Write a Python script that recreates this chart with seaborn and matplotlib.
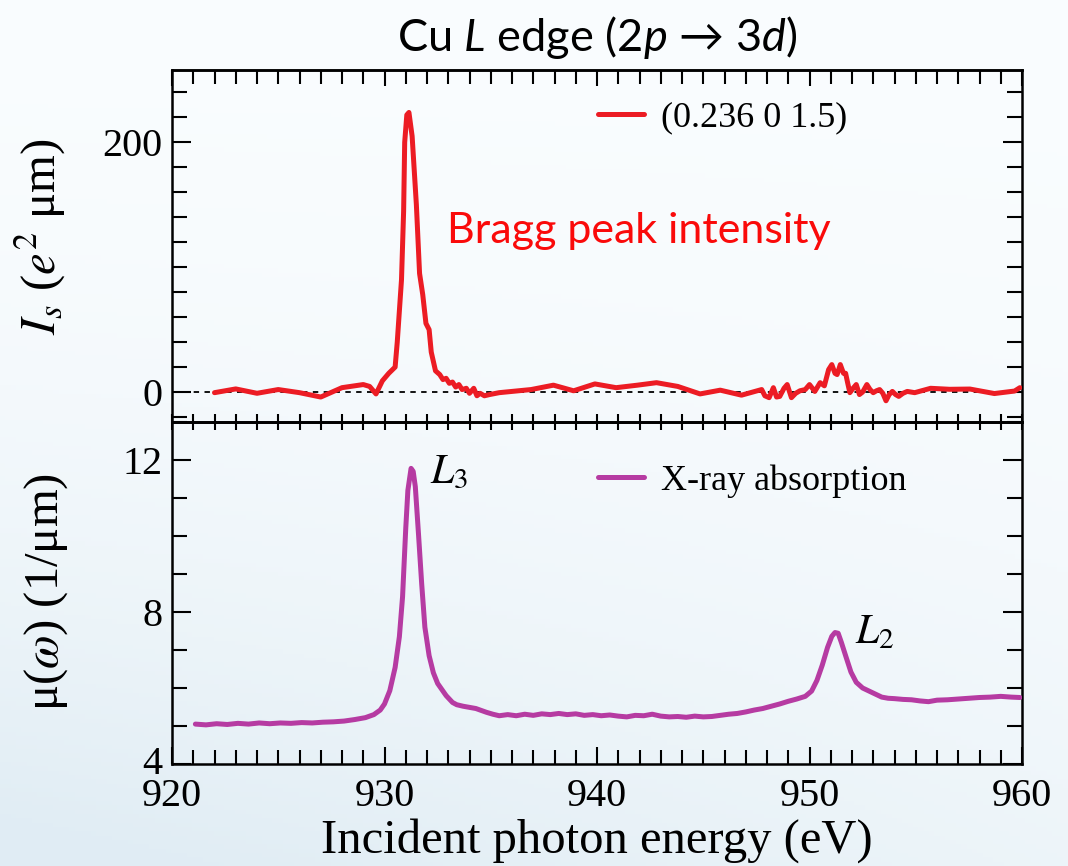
import numpy as np
import pandas as pd
import matplotlib
matplotlib.use("Agg")
import matplotlib.pyplot as plt
import matplotlib.transforms as mtransforms
import seaborn as sns
from matplotlib.ticker import MultipleLocator

# ---------------- data ----------------
bragg_energy = [
    922.0, 923.0, 924.0, 925.0, 926.0, 927.0, 928.0, 929.0, 929.3, 929.6,
    929.9, 930.2, 930.5, 930.6, 930.8, 930.9, 930.95, 931.05, 931.15, 931.3,
    931.5, 931.65, 931.8, 931.95, 932.1, 932.2, 932.4, 932.6, 932.75, 932.9,
    933.05, 933.2, 933.35, 933.5, 933.65, 933.85, 934.0, 934.2, 934.35, 934.5,
    934.7, 934.95, 935.4, 936.9, 937.95, 938.9, 939.9, 940.9, 941.9, 942.8,
    943.8, 944.85, 945.8, 946.8, 947.75, 947.9, 948.1, 948.3, 948.45, 948.6,
    948.8, 948.95, 949.15, 949.35, 949.55, 949.8, 950.0, 950.25, 950.5, 950.7,
    950.9, 951.05, 951.2, 951.3, 951.45, 951.6, 951.7, 951.8, 951.9, 952.05,
    952.2, 952.35, 952.5, 952.7, 952.85, 953.0, 953.15, 953.3, 953.45, 953.6,
    953.75, 953.9, 954.05, 954.2, 954.4, 954.6, 954.95, 955.7, 956.6, 957.55,
    958.7, 959.65, 959.9,
]
bragg_intensity = [
    -0.5, 2.5, -1.0, 2.0, -0.5, -4.0, 3.5, 6.0, 4.5, -1.5,
    9.0, 15.0, 20.0, 40.0, 90.0, 145.0, 200.0, 222.0, 224.0, 205.0,
    150.0, 95.0, 78.0, 55.0, 50.0, 32.0, 17.0, 14.0, 10.0, 11.0,
    7.0, 8.0, 4.0, 6.0, 2.0, 3.0, -1.0, 3.0, -3.0, -1.0,
    -3.0, -2.0, -0.5, 2.0, 5.5, 1.0, 6.5, 3.5, 5.5, 7.5,
    4.5, -1.5, 1.5, -2.5, 2.0, -3.0, -4.5, 3.5, -4.0, -3.5,
    3.0, 6.0, -4.5, -1.0, 1.0, 2.0, 6.0, 0.5, 7.5, 5.0,
    18.0, 22.0, 15.0, 14.0, 22.0, 15.0, 15.0, 7.0, -0.5, 3.0,
    6.0, -2.0, 0.0, 6.0, 2.0, -0.5, 1.0, 2.0, -1.0, -7.0,
    -2.0, 0.5, -2.0, -3.5, -1.0, 0.5, -0.5, 3.0, 2.2, 2.4,
    -1.2, 0.8, 3.5,
]

xas_energy = [
    921.1, 921.6, 922.1, 922.6, 923.1, 923.6, 924.1, 924.6, 925.1, 925.6,
    926.1, 926.6, 927.1, 927.6, 928.1, 928.6, 929.1, 929.5, 929.8, 930.0,
    930.25, 930.5, 930.7, 930.85, 931.0, 931.1, 931.25, 931.35, 931.45, 931.6,
    931.75, 931.9, 932.1, 932.3, 932.5, 932.9, 933.2, 933.4, 933.7, 934.0,
    934.3, 934.6, 934.8, 935.1, 935.4, 935.8, 936.2, 936.6, 937.0, 937.4,
    937.8, 938.2, 938.6, 939.0, 939.4, 939.8, 940.2, 940.6, 941.0, 941.4,
    941.8, 942.2, 942.6, 943.0, 943.4, 943.8, 944.2, 944.6, 945.0, 945.4,
    945.8, 946.2, 946.6, 947.0, 947.4, 947.8, 948.2, 948.6, 949.0, 949.4,
    949.8, 950.1, 950.35, 950.6, 950.85, 951.05, 951.2, 951.35, 951.5, 951.7,
    951.95, 952.2, 952.5, 952.8, 953.1, 953.4, 953.7, 954.0, 954.4, 954.8,
    955.2, 955.6, 956.0, 956.5, 957.0, 957.5, 958.0, 958.5, 959.0, 959.5,
    959.9,
]
xas_mu = [
    5.05, 5.03, 5.06, 5.04, 5.07, 5.05, 5.08, 5.06, 5.08, 5.07,
    5.09, 5.08, 5.10, 5.11, 5.13, 5.17, 5.22, 5.30, 5.42, 5.58,
    5.93, 6.54, 7.35, 8.40, 10.2, 11.2, 11.78, 11.7, 11.3, 10.05,
    8.74, 7.60, 6.85, 6.40, 6.12, 5.80, 5.62, 5.56, 5.52, 5.49,
    5.46, 5.40, 5.36, 5.31, 5.27, 5.30, 5.27, 5.31, 5.28, 5.32,
    5.30, 5.33, 5.30, 5.32, 5.28, 5.30, 5.27, 5.29, 5.26, 5.24,
    5.28, 5.27, 5.31, 5.26, 5.24, 5.25, 5.23, 5.26, 5.24, 5.25,
    5.28, 5.31, 5.33, 5.37, 5.42, 5.46, 5.52, 5.58, 5.65, 5.71,
    5.78, 5.92, 6.20, 6.60, 7.07, 7.36, 7.46, 7.44, 7.20, 6.85,
    6.42, 6.15, 6.00, 5.92, 5.84, 5.76, 5.73, 5.72, 5.70, 5.69,
    5.66, 5.64, 5.68, 5.69, 5.71, 5.73, 5.75, 5.76, 5.78, 5.76,
    5.75,
]

bragg_label = "(0.236 0 1.5)"
xas_label = "X-ray absorption"
x_ticks_major = 10
top_y_major, top_y_minor = 200, 20
bot_y_major, bot_y_minor = 4, 1

df_bragg = pd.DataFrame({"E": bragg_energy, "I": bragg_intensity})
df_xas = pd.DataFrame({"E": xas_energy, "mu": xas_mu})

# ---------------- style ----------------
sns.set_theme(style="ticks")
plt.rcParams["font.family"] = ["Liberation Serif", "DejaVu Serif"]
plt.rcParams["mathtext.fontset"] = "custom"
plt.rcParams["mathtext.rm"] = "Lato"
plt.rcParams["mathtext.it"] = "Lato:italic"
plt.rcParams["axes.linewidth"] = 1.8
plt.rcParams["axes.edgecolor"] = "black"
plt.rcParams["text.color"] = "black"
plt.rcParams["xtick.color"] = "black"
plt.rcParams["ytick.color"] = "black"
plt.rcParams["xtick.labelcolor"] = "black"
plt.rcParams["ytick.labelcolor"] = "black"
plt.rcParams["legend.labelcolor"] = "black"

W, H = 1068, 866
fig = plt.figure(figsize=(W / 100, H / 100), dpi=100)


def fx(px):
    return px / W


def fy(py):
    return 1 - py / H


# background gradient (decoration)
bg = fig.add_axes([0, 0, 1, 1], zorder=-10)
gy, gx = np.mgrid[0:1:200j, 0:1:200j]
t = np.clip(gy ** 2 * (1.1 - 0.6 * gx), 0, 1)[..., None]
top_c = np.array([0.978, 0.990, 0.997])
bot_c = np.array([0.880, 0.928, 0.957])
bg.imshow(top_c * (1 - t) + bot_c * t, aspect="auto", extent=[0, 1, 0, 1],
          origin="upper")
bg.set_axis_off()

L, R = 172, 1022
T1, B1, B2 = 70, 422, 764
ax1 = fig.add_axes([fx(L), fy(B1), (R - L) / W, (B1 - T1) / H])
ax2 = fig.add_axes([fx(L), fy(B2), (R - L) / W, (B2 - B1) / H])
for ax in (ax1, ax2):
    ax.set_facecolor("none")

RED = "#ec1c24"
MAG = "#b63ba2"

ax1.axhline(0, color="black", lw=1.3, ls=(0, (3, 3)), zorder=1)
sns.lineplot(data=df_bragg, x="E", y="I", ax=ax1, color=RED, lw=3.6,
             label=bragg_label, estimator=None, sort=False, zorder=3)
sns.lineplot(data=df_xas, x="E", y="mu", ax=ax2, color=MAG, lw=3.6,
             label=xas_label, estimator=None, sort=False, zorder=3)

ax1.set_xlim(920, 960)
ax2.set_xlim(920, 960)
ax1.set_ylim(-24, 258)
ax2.set_ylim(4, 13)
ax1.set_xlabel("")
ax1.set_ylabel("")
ax2.set_xlabel("")
ax2.set_ylabel("")

for ax in (ax1, ax2):
    ax.xaxis.set_major_locator(MultipleLocator(x_ticks_major))
    ax.xaxis.set_minor_locator(MultipleLocator(1))
    for s in ax.spines.values():
        s.set_linewidth(1.8)
        s.set_visible(True)
    ax.tick_params(axis="y", which="major", direction="in", length=14,
                   width=1.5, left=True, right=True, labelsize=29, pad=7,
                   colors="black")
    ax.tick_params(axis="y", which="minor", direction="in", length=11,
                   width=1.5, left=True, right=True)

ax1.yaxis.set_major_locator(MultipleLocator(top_y_major))
ax1.yaxis.set_minor_locator(MultipleLocator(top_y_minor))
ax2.yaxis.set_major_locator(MultipleLocator(bot_y_major))
ax2.yaxis.set_minor_locator(MultipleLocator(bot_y_minor))

# top panel: short ticks at the shared boundary, long ticks on the top
ax1.tick_params(axis="x", which="major", direction="in", length=6, width=1.5,
                bottom=True, top=False, labelbottom=False)
ax1.tick_params(axis="x", which="minor", direction="in", length=5.5,
                width=1.5, bottom=True, top=False)
sec1 = ax1.secondary_xaxis("top")
sec1.xaxis.set_major_locator(MultipleLocator(x_ticks_major))
sec1.xaxis.set_minor_locator(MultipleLocator(1))
sec1.tick_params(which="major", direction="in", length=11.5, width=1.5,
                 labeltop=False, colors="black")
sec1.tick_params(which="minor", direction="in", length=10, width=1.5,
                 colors="black")
sec1.spines["top"].set_linewidth(1.8)

# bottom panel
ax2.tick_params(axis="x", which="major", direction="in", length=12, width=1.5,
                bottom=True, top=False, labelsize=29, pad=10, colors="black")
ax2.tick_params(axis="x", which="minor", direction="in", length=10,
                width=1.5, bottom=True, top=False)
sec2 = ax2.secondary_xaxis("top")
sec2.xaxis.set_major_locator(MultipleLocator(x_ticks_major))
sec2.xaxis.set_minor_locator(MultipleLocator(1))
sec2.tick_params(which="major", direction="in", length=6, width=1.5,
                 labeltop=False, colors="black")
sec2.tick_params(which="minor", direction="in", length=5.5, width=1.5,
                 colors="black")
sec2.spines["top"].set_linewidth(1.8)

# legends
for ax, py in ((ax1, 118), (ax2, 481)):
    ax.legend(loc="center left", bbox_to_anchor=(fx(598), fy(py)),
              bbox_transform=fig.transFigure, frameon=False, fontsize=26,
              handlelength=1.28, handletextpad=0.46, borderpad=0,
              borderaxespad=0, labelcolor="black")

# texts
fig.text(fx(597), fy(51), r"Cu $\mathit{L}$ edge (2$\mathit{p}$ → 3$\mathit{d}$)",
         ha="center", va="baseline", fontsize=32.5,
         family=["Lato", "DejaVu Sans"], color="black")
fig.text(fx(447), fy(243), "Bragg peak intensity", ha="left", va="baseline",
         fontsize=31, family=["Lato", "DejaVu Sans"], color="#fa0a0a")
fig.text(fx(430), fy(483), r"$L_3$", ha="left", va="baseline", fontsize=30,
         math_fontfamily="stix", color="black")
fig.text(fx(855), fy(643), r"$L_2$", ha="left", va="baseline", fontsize=30,
         math_fontfamily="stix", color="black")
fig.text(fx(40), fy(237), r"$I_s$ ($e^2$ μm)", rotation=90, ha="center",
         va="center", fontsize=35, math_fontfamily="stix", color="black")
fig.text(fx(46), fy(592), r"μ($\omega$) (1/μm)", rotation=90, ha="center",
         va="center", fontsize=35, math_fontfamily="stix", color="black")
fig.text(fx(597), fy(853), "Incident photon energy (eV)", ha="center",
         va="baseline", fontsize=35, color="black")

# nudge the lowest y label ("4") up a few pixels so it clears "920"
fig.canvas.draw()
lift = mtransforms.ScaledTranslation(0, 4 / 100, fig.dpi_scale_trans)
for lab in ax2.get_yticklabels():
    if lab.get_text() == "4":
        lab.set_transform(lab.get_transform() + lift)

fig.savefig("out.png", dpi=100)
